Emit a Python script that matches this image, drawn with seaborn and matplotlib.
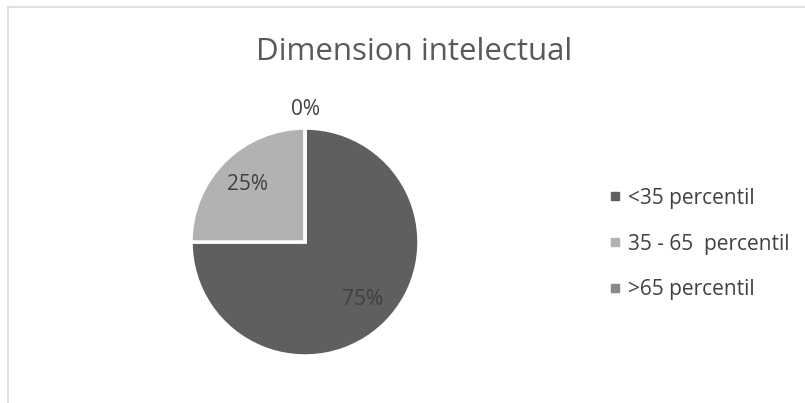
import matplotlib
matplotlib.use("Agg")
import matplotlib.pyplot as plt
from matplotlib.patches import Rectangle
from matplotlib.lines import Line2D
import numpy as np
import seaborn as sns

title = "Dimension intelectual"
categories = ["<35 percentil", "35 - 65  percentil", ">65 percentil"]
shares = [75, 25, 0]
pct_labels = ["75%", "25%", "0%"]

sns.set_theme(style="white")
plt.rcParams["font.family"] = ["Open Sans", "DejaVu Sans"]

colors = ["#5f5f5f", "#b2b2b2", "#898989"]
text_color = "#404040"

W, H = 805, 403
fig = plt.figure(figsize=(W / 100, H / 100), dpi=100)
fig.patch.set_facecolor("white")

# chart-area border (runs off the right and bottom edges)
fig.add_artist(Rectangle((8 / W, -0.05), 1.2, (H - 7) / H + 0.05,
                         transform=fig.transFigure, fill=False,
                         edgecolor="#d9d9d9", linewidth=1.2))

fig.text(414 / W, 1 - 52 / H, title, ha="center", va="center",
         fontsize=22.5, color="#595959")

cx, cy, r = 305, 242, 114
ax = fig.add_axes([(cx - r) / W, (H - cy - r) / H, 2 * r / W, 2 * r / H])
wedges, _ = ax.pie(shares, colors=colors, startangle=90, counterclock=False,
                   wedgeprops=dict(edgecolor="white", linewidth=2.5))
ax.set_xlim(-1, 1)
ax.set_ylim(-1, 1)
ax.set_aspect("auto")
ax.axis("off")

# data labels along each wedge's mid-angle
label_radius = [0.71, 0.71, 1.16]
for w, lab, rad in zip(wedges, pct_labels, label_radius):
    mid = np.deg2rad((w.theta1 + w.theta2) / 2)
    ax.text(rad * np.cos(mid), rad * np.sin(mid), lab, ha="center",
            va="center", fontsize=15, color=text_color, clip_on=False)

handles = [Line2D([], [], marker="s", linestyle="none", markersize=6,
                  markerfacecolor=c, markeredgecolor=c) for c in colors]
fig.legend(handles, categories, loc="center left",
           bbox_to_anchor=(590 / W, 1 - 244 / H), frameon=False,
           fontsize=15, labelcolor=text_color, handlelength=0.6,
           handletextpad=0.3, labelspacing=1.2)

fig.savefig("out.png", dpi=100, facecolor="white")
